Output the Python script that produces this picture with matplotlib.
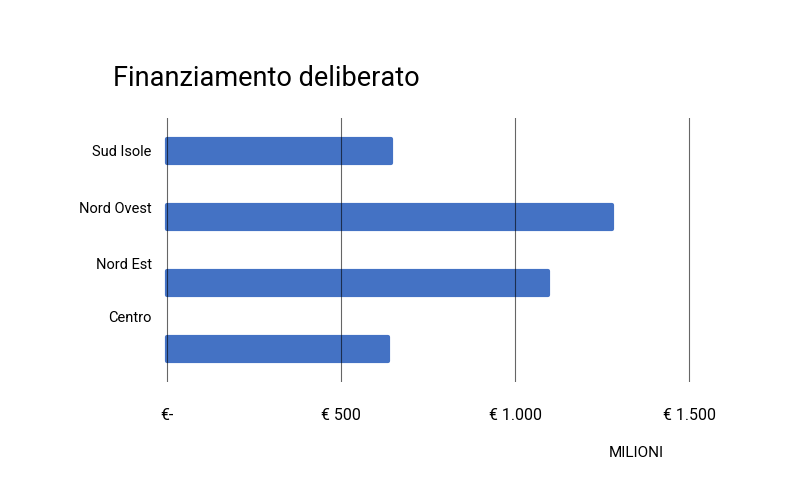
import matplotlib.pyplot as plt
import numpy as np

plt.rcParams['font.family'] = ['Roboto', 'DejaVu Sans']

regioni = ['Sud Isole', 'Nord Ovest', 'Nord Est', 'Centro']
valori = [645, 1280, 1095, 635]   # milioni di euro
tick_val = [0, 500, 1000, 1500]
tick_lab = ['€-', '€ 500', '€ 1.000', '€ 1.500']

# le etichette nell'originale non sono allineate alle barre
pos_barre = np.arange(len(regioni))
pos_etichette = [0.0, 0.86, 1.70, 2.50]

fig = plt.figure(figsize=(8, 5), dpi=100)
ax = fig.add_axes([0.20, 0.236, 0.70, 0.528])

ax.barh(pos_barre, valori, height=0.35, color='#4472C4',
        edgecolor='#4472C4', linewidth=3, joinstyle='round')

ax.set_xlim(-20, 1589)
ax.set_ylim(3.5, -0.5)
ax.set_xticks(tick_val)
ax.set_xticklabels(tick_lab, fontsize=11.5)
ax.set_yticks(pos_etichette)
ax.set_yticklabels(regioni, fontsize=10.5)
ax.tick_params(axis='both', length=0)
ax.tick_params(axis='x', pad=19)
ax.tick_params(axis='y', pad=6)
ax.xaxis.grid(True, color='black', alpha=0.6, linewidth=0.8)
ax.set_axisbelow(False)
for s in ax.spines.values():
    s.set_visible(False)

fig.text(113/800, 1 - 78/500, 'Finanziamento deliberato', fontsize=19.5,
         va='center', ha='left')
fig.text(636/800, 1 - 453/500, 'MILIONI', fontsize=11,
         va='center', ha='center')

plt.savefig('out.png')
